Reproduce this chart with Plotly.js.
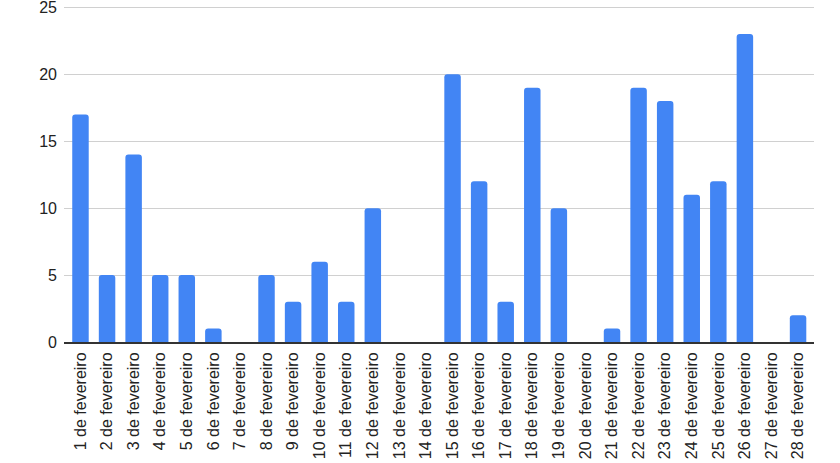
<!DOCTYPE html>
<html><head><meta charset="utf-8">
<script src="https://cdn.plot.ly/plotly-3.0.1.min.js"></script>
<style>html,body{margin:0;padding:0;overflow:hidden;background:#fff}</style>
</head><body><div id="chart" style="width:840px;height:463px"></div>
<script>
const days = ["1 de fevereiro","2 de fevereiro","3 de fevereiro","4 de fevereiro","5 de fevereiro","6 de fevereiro","7 de fevereiro","8 de fevereiro","9 de fevereiro","10 de fevereiro","11 de fevereiro","12 de fevereiro","13 de fevereiro","14 de fevereiro","15 de fevereiro","16 de fevereiro","17 de fevereiro","18 de fevereiro","19 de fevereiro","20 de fevereiro","21 de fevereiro","22 de fevereiro","23 de fevereiro","24 de fevereiro","25 de fevereiro","26 de fevereiro","27 de fevereiro","28 de fevereiro"];
const counts = [17,5,14,5,5,1,0,5,3,6,3,10,0,0,20,12,3,19,10,0,1,19,18,11,12,23,0,2];
const yTicks = [0,5,10,15,20,25];

Plotly.newPlot('chart', [{
  type: 'bar', x: days, y: counts,
  marker: {color: '#4285f4', cornerradius: 3},
  hoverinfo: 'x+y'
}], {
  width: 840, height: 463,
  margin: {l: 64, r: 26, t: 6, b: 121},
  paper_bgcolor: '#fff', plot_bgcolor: '#fff',
  bargap: 0.38,
  showlegend: false,
  font: {family: 'Liberation Sans, Arial, sans-serif', size: 16, color: '#222'},
  xaxis: {
    type: 'category', tickangle: -90, showgrid: false,
    showline: true, linecolor: '#333', linewidth: 2,
    ticks: '', tickfont: {size: 16, color: '#222'}, automargin: false,
    range: [-0.62, 27.6], ticklabelstandoff: 2, ticklabeloverflow: 'allow'
  },
  yaxis: {
    range: [0, 25.1], tickvals: yTicks, ticks: '', showline: false,
    gridcolor: '#d0d0d0', gridwidth: 1, zeroline: false,
    tickfont: {size: 16, color: '#222'}, automargin: false, ticklabelstandoff: 6,
    ticklabeloverflow: 'allow'
  }
}, {displayModeBar: false, staticPlot: true});
</script></body></html>
